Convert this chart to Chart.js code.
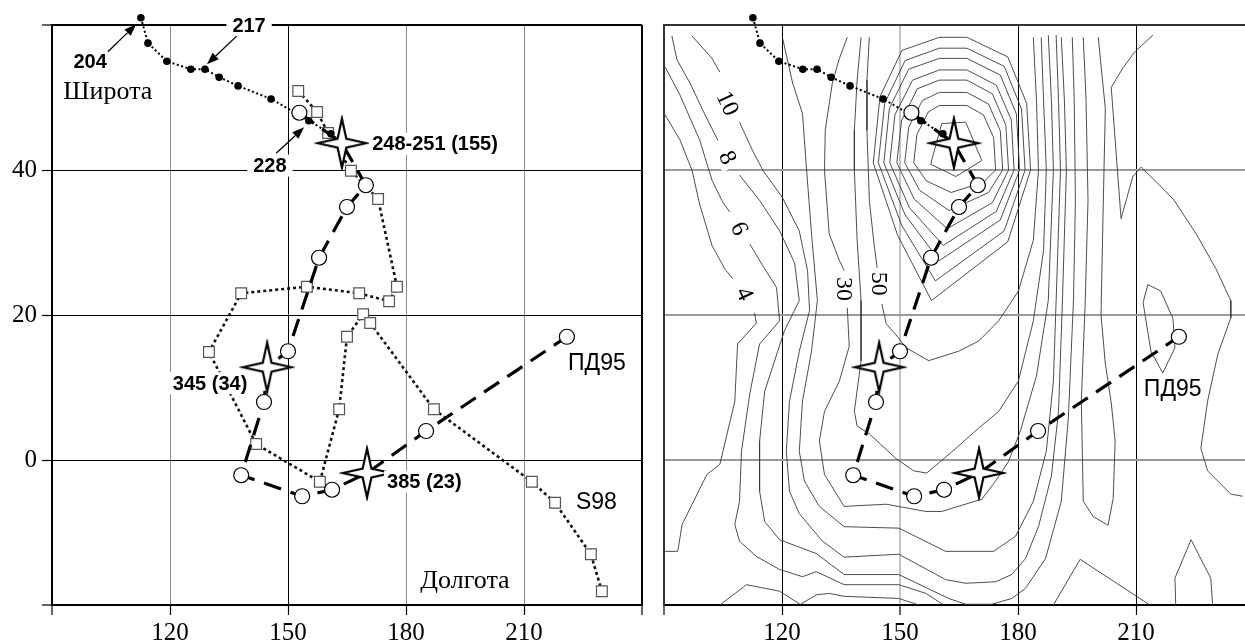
<!DOCTYPE html>
<html>
<head>
<meta charset="utf-8">
<script src="https://cdn.jsdelivr.net/npm/chart.js@4.4.1/dist/chart.umd.min.js"></script>
<style>
  html, body { margin: 0; padding: 0; background: #fff; width: 1245px; height: 641px; overflow: hidden; }
  #left { position: absolute; left: 0; top: 0; }
  #right { position: absolute; left: 612px; top: 0; }
</style>
</head>
<body>
<canvas id="left" width="660" height="641"></canvas>
<canvas id="right" width="660" height="641"></canvas>
<script>
// axes
const xRange = [90, 240];
const yRange = [-20, 60];
const xTickLabels = [120, 150, 180, 210];
const yTickLabels = [0, 20, 40];

// tracks (longitude, latitude)
const dotTrack = [[112.6,61.0],[114.4,57.5],[119.2,55.0],[125.3,53.9],[128.9,53.9],[132.5,52.8],[137.3,51.6],[145.7,49.8],[155.3,46.8],[160.9,45.0],[163.7,43.7]];
const pd95Track = [[152.9,47.9],[163.7,43.7],[169.8,37.9],[165.0,34.9],[157.9,27.9],[150.0,15.0],[144.7,12.8],[143.9,8.0],[138.1,-2.1],[153.6,-5.0],[161.2,-4.1],[170.1,-1.8],[185.1,4.0],[220.9,17.0]];
const s98Track = [[152.6,50.9],[157.4,48.0],[160.2,45.1],[166.0,39.9],[172.9,36.0],[177.7,23.9],[175.7,21.9],[168.1,23.0],[154.8,23.9],[138.1,23.0],[129.9,14.9],[141.9,2.2],[158.1,-3.0],[163.0,7.0],[165.0,17.0],[169.1,20.1],[170.9,18.9],[187.1,7.0],[212.0,-3.0],[217.9,-5.9],[227.0,-13.0],[229.8,-18.1]];
const starPoints = [[163.7,43.7],[144.7,12.8],[170.1,-1.8]];

// contour lines of the right map
const c4a = [[90.3,47.6],[94.1,44.1],[97.1,40.0],[99.1,35.2],[102.2,29.6],[105.4,26.4],[107.5,25.0]];
const c4b = [[113.0,20.3],[113.5,18.9],[108.7,16.0],[108.0,8.1],[104.2,-0.6],[100.9,-2.0],[94.6,-8.9],[93.5,-12.6],[90.3,-12.6]];
const c6a = [[90.3,54.2],[94.1,50.3],[99.1,44.1],[102.2,38.6],[104.7,35.8],[106.7,34.2]];
const c6b = [[111.8,29.8],[115.1,26.8],[118.6,23.8],[119.4,19.2],[114.3,16.0],[111.8,9.1],[109.7,1.2],[109.2,-5.7],[108.0,-8.9],[109.2,-11.2],[113.5,-13.3],[119.4,-15.1],[125.2,-16.1],[128.7,-15.4],[135.8,-17.2],[149.7,-17.2],[156.6,-18.4],[161.1,-20.0]];
const c8a = [[92.0,58.5],[93.3,55.2],[96.6,52.0],[99.9,48.2],[103.7,44.1]];
const c8b = [[109.2,39.3],[114.3,35.8],[119.4,31.6],[123.2,27.2],[124.4,22.0],[120.6,17.8],[115.6,9.5],[114.3,2.6],[114.3,-4.3],[115.6,-8.5],[119.4,-11.0],[128.7,-12.9],[135.8,-15.8],[149.7,-15.8],[162.4,-19.1],[166.7,-19.9],[173.3,-19.9],[178.4,-19.1],[181.9,-17.7],[187.0,-13.6],[191.0,-5.7],[192.8,5.8],[194.1,22.0],[194.6,35.8],[194.3,49.6],[193.8,58.3]];
const c10a = [[97.1,58.5],[102.2,55.4],[104.2,53.5]];
const c10b = [[109.2,46.6],[112.5,42.7],[115.1,40.0],[120.1,36.2],[124.4,31.6],[126.5,26.1],[127.0,20.6],[124.4,15.0],[121.9,8.1],[121.1,1.2],[121.9,-4.3],[124.4,-7.4],[130.3,-11.2],[135.8,-13.4],[149.7,-13.0],[161.6,-16.5],[166.7,-17.0],[174.3,-16.8],[178.4,-15.8],[181.9,-13.6],[185.2,-9.2],[188.5,-2.2],[190.3,6.7],[191.3,22.0],[192.3,40.0],[191.8,49.6],[191.0,58.3]];
const c20 = [[120.1,58.3],[122.7,52.0],[125.2,47.8],[126.2,40.4],[127.5,31.2],[129.0,22.0],[127.5,15.0],[125.2,8.1],[124.4,1.2],[125.7,-2.9],[129.5,-6.4],[135.8,-9.2],[149.7,-9.4],[161.6,-12.6],[173.8,-12.6],[179.4,-10.5],[183.9,-5.7],[187.2,1.2],[189.0,10.9],[189.7,22.0],[190.8,40.0],[190.3,49.6],[189.7,58.6]];
const c30a = [[136.6,58.3],[134.6,55.4],[132.8,52.0],[131.0,45.5],[130.8,40.0],[132.0,31.2],[134.6,27.5],[135.8,26.1]];
const c30b = [[136.6,21.0],[137.1,15.7],[134.6,10.9],[130.8,6.7],[129.5,2.6],[130.8,-2.0],[135.8,-6.4],[146.5,-6.1],[156.6,-7.1],[160.6,-7.1],[170.8,-5.4],[174.3,-2.9],[177.6,-0.2],[180.6,4.0],[184.7,11.6],[187.7,22.0],[189.0,40.0],[188.5,49.6],[187.7,58.6]];
const c40 = [[140.1,58.3],[139.1,52.4],[138.4,45.5],[138.4,40.0],[139.1,30.3],[140.1,22.0],[140.1,13.7],[138.4,6.7],[139.1,4.7],[142.2,3.6],[149.0,0.2],[153.5,-1.5],[156.8,-1.8],[164.2,1.6],[170.0,4.4],[175.1,6.7],[180.1,10.9],[183.9,19.2],[186.5,28.9],[187.2,40.0],[186.5,49.6],[185.9,58.3]];
const c50a = [[142.2,58.3],[141.6,52.4],[141.6,45.5],[142.2,35.8],[143.4,29.8],[144.2,26.5]];
const c50b = [[145.4,21.5],[146.5,18.8],[149.7,16.8],[151.5,15.5],[157.3,13.7],[164.9,15.0],[170.0,16.4],[175.1,19.2],[180.1,23.3],[183.9,30.3],[185.2,40.0],[184.7,49.6],[183.9,58.3]];
const ring1 = [[157.8,40.8],[160.6,46.4],[166.7,46.6],[170.8,41.3],[164.2,39.1],[157.8,40.8]];
const ring2 = [[153.5,41],[154.3,44.9],[157.2,48.0],[160,48.9],[167,48.9],[171.2,47.6],[173.8,44.5],[174.3,40],[171.2,38.3],[163,36.9],[156.7,38.5],[153.5,41]];
const ring3 = [[151.2,41],[152.2,45.9],[155.7,49.6],[160,50.7],[167,50.7],[172.5,49.1],[175.5,45.4],[176.1,40],[172.5,36.9],[162.5,34.4],[155.0,37.2],[151.2,41]];
const ring4 = [[149.2,41],[150.4,46.8],[154.4,51.2],[160,52.4],[167,52.4],[173.5,50.5],[176.9,46.2],[177.6,40],[173.5,35.5],[162,31.9],[153.6,36.0],[149.2,41]];
const ring5 = [[147.4,41],[148.7,47.6],[153.2,52.4],[160,53.8],[167,53.8],[174.5,51.7],[178.3,46.9],[179.0,40],[174.5,34.3],[161,29.6],[152.4,34.8],[147.4,41]];
const ring6 = [[145.9,41],[147.3,48.5],[152.2,53.9],[160,55.4],[167,55.4],[175.5,53.1],[179.6,47.7],[180.4,40],[175.5,33.1],[160,27.5],[151.3,33.8],[145.9,41]];
const ring7 = [[144.5,41],[146.1,49.2],[151.3,55.1],[160,56.8],[167,56.8],[176.5,54.3],[180.9,48.4],[181.8,40],[176.5,31.6],[159,24.7],[150.4,32.4],[144.5,41]];
const ring8 = [[143.2,41],[144.9,50.1],[150.5,56.5],[160,58.3],[167,58.3],[177.4,55.6],[182.2,49.2],[183.2,40],[177.4,30.1],[158,22.0],[149.4,31.0],[143.2,41]];
const tongue = [[196.6,58.3],[197.3,49.6],[197.8,35.8],[197.1,22.0],[196.1,8.1],[196.6,-5.7],[199.1,-7.8],[202.9,-9.0],[204.2,-5.3],[204.7,2.6],[203.7,7.9],[202.2,13.3],[201.1,20.0],[201.6,33.3],[202.2,48.5],[200.4,58.3]];
const hook = [[214.3,58.6],[209.7,56.3],[206.7,54.1],[203.7,51.4],[204.9,42.7],[206.2,33.3],[209.2,39.1],[211.3,40.4],[215.8,38.0],[219.6,35.9],[225.4,31.1],[230.3,26.4],[234.1,22.0],[234.1,19.6],[230.8,14.6],[228.2,8.1],[226.5,1.6],[228.2,-1.5],[234.1,-4.7],[237.1,-5.0]];
const loopEast = [[213.0,24.2],[211.8,21.7],[213.8,15.0],[216.8,12.0],[219.9,15.5],[219.4,19.5],[216.3,23.3],[213.0,24.2]];
const loopSouth = [[220.1,-20.0],[219.9,-16.3],[224.0,-11.0],[229.0,-16.3],[229.5,-20.0]];
const edgeA = [[104.2,-20.0],[111.0,-17.2],[119.4,-18.1],[124.9,-20.0]];
const edgeB = [[124.4,-20.0],[128.7,-18.6],[132.0,-18.4],[135.8,-18.8],[149.7,-19.1],[154.8,-20.0]];
const edgeC = [[189.0,-20.0],[195.8,-13.7],[213.5,-20.0]];

const contourLines = [c4a, c4b, c6a, c6b, c8a, c8b, c10a, c10b, c20, c30a, c30b, c40, c50a, c50b,
  ring1, ring2, ring3, ring4, ring5, ring6, ring7, ring8, tongue, hook, loopEast, loopSouth, edgeA, edgeB, edgeC];

const BOLD = 'bold 20px "Liberation Sans", Arial, sans-serif';
const SANS = '23px "Liberation Sans", Arial, sans-serif';
const SERIF = '26px "Liberation Serif", "Times New Roman", serif';
const ISO = '24px "Liberation Serif", "Times New Roman", serif';

const leftNotes = [
  { t: '204', x: 99.7, y: 54.9, font: BOLD },
  { t: '217', x: 140.1, y: 60.0, font: BOLD, bg: 6 },
  { t: 'Широта', x: 104.2, y: 50.9, font: SERIF },
  { t: '228', x: 145.4, y: 40.6, font: BOLD, bg: 6 },
  { t: '248-251 (155)', x: 171.4, y: 43.6, font: BOLD, bg: 3, align: 'left' },
  { t: '345 (34)', x: 130.2, y: 10.6, font: BOLD, bg: 3 },
  { t: '385 (23)', x: 175.2, y: -3.0, font: BOLD, bg: 3, align: 'left' },
  { t: 'ПД95', x: 221.2, y: 13.4, font: SANS, align: 'left' },
  { t: 'S98', x: 223.2, y: -5.8, font: SANS, align: 'left' },
  { t: 'Долгота', x: 195.0, y: -16.6, font: SERIF }
];
const leftArrows = [
  [[104.2, 56.3], [111.4, 60.1]],
  [[137.0, 58.5], [129.4, 54.6]],
  [[147.0, 42.3], [154.1, 45.9]]
];
const rightNotes = [
  { t: '10', x: 106.2, y: 49.2, font: ISO, rot: 65, bg: 4 },
  { t: '8', x: 106.2, y: 41.7, font: ISO, rot: 65, bg: 5 },
  { t: '6', x: 109.2, y: 31.9, font: ISO, rot: 65, bg: 5 },
  { t: '4', x: 110.5, y: 22.9, font: ISO, rot: 65, bg: 5 },
  { t: '30', x: 135.8, y: 23.6, font: ISO, rot: 90, bg: 3 },
  { t: '50', x: 144.7, y: 24.3, font: ISO, rot: 90, bg: 3 },
  { t: 'ПД95', x: 212.0, y: 9.8, font: SANS, align: 'left' }
];

const P = arr => arr.map(([x, y]) => ({ x, y }));
const isStar = p => starPoints.some(s => s[0] === p.x && s[1] === p.y);

// 4-point star marker
function makeStar() {
  const c = document.createElement('canvas');
  c.width = 56; c.height = 56;
  const g = c.getContext('2d');
  g.beginPath();
  for (let i = 0; i < 8; i++) {
    const a = -Math.PI / 2 + i * Math.PI / 4;
    const r = i % 2 === 0 ? 24.5 : 6.2;
    g.lineTo(28 + r * Math.cos(a), 28 + r * Math.sin(a));
  }
  g.closePath();
  g.fillStyle = '#fff';
  g.fill();
  g.lineWidth = 2.2;
  g.lineJoin = 'miter';
  g.strokeStyle = '#000';
  g.stroke();
  return c;
}
const starImg = makeStar();

function drawArrow(ctx, x1, y1, x2, y2) {
  const a = Math.atan2(y2 - y1, x2 - x1);
  const L = 12, W = 4.5;
  const bx = x2 - L * Math.cos(a), by = y2 - L * Math.sin(a);
  ctx.strokeStyle = '#000';
  ctx.lineWidth = 1.3;
  ctx.beginPath(); ctx.moveTo(x1, y1); ctx.lineTo(bx, by); ctx.stroke();
  ctx.fillStyle = '#000';
  ctx.beginPath();
  ctx.moveTo(x2, y2);
  ctx.lineTo(bx + W * Math.sin(a), by - W * Math.cos(a));
  ctx.lineTo(bx - W * Math.sin(a), by + W * Math.cos(a));
  ctx.closePath(); ctx.fill();
}

// text labels and arrows placed in data coordinates
const notesPlugin = {
  id: 'notes',
  afterDatasetsDraw(chart, args, opts) {
    const { ctx } = chart;
    const xs = chart.scales.x, ys = chart.scales.y;
    ctx.save();
    (opts.arrows || []).forEach(([a, b]) => {
      drawArrow(ctx, xs.getPixelForValue(a[0]), ys.getPixelForValue(a[1]),
        xs.getPixelForValue(b[0]), ys.getPixelForValue(b[1]));
    });
    (opts.notes || []).forEach(n => {
      ctx.save();
      ctx.font = n.font;
      const w = ctx.measureText(n.t).width;
      ctx.translate(xs.getPixelForValue(n.x), ys.getPixelForValue(n.y));
      if (n.rot) ctx.rotate(n.rot * Math.PI / 180);
      const left = n.align === 'left' ? 0 : -w / 2;
      if (n.bg) {
        ctx.fillStyle = '#fff';
        ctx.fillRect(left - n.bg, -11, w + 2 * n.bg, 22);
      }
      ctx.fillStyle = '#000';
      ctx.textAlign = 'left';
      ctx.textBaseline = 'middle';
      ctx.fillText(n.t, left, 1);
      ctx.restore();
    });
    ctx.restore();
  }
};

// let marker just above the frame be drawn
const roomPlugin = {
  id: 'room',
  beforeDatasetsDraw(chart) { chart.chartArea.top -= 20; },
  afterDatasetsDraw(chart) { chart.chartArea.top += 20; }
};

function makeOptions(isLeft, notes, arrows) {
  return {
    responsive: false,
    animation: false,
    devicePixelRatio: 1,
    layout: { padding: { left: 0, right: 18, top: 25, bottom: 0 } },
    plugins: {
      legend: { display: false },
      tooltip: { enabled: false },
      notes: { notes, arrows }
    },
    scales: {
      x: {
        type: 'linear',
        min: xRange[0], max: xRange[1],
        afterFit: s => { s.height = 36; },
        ticks: {
          stepSize: 30, autoSkip: false, maxRotation: 0, padding: 3, color: '#000',
          font: { family: '"Liberation Serif", "Times New Roman", serif', size: 25 },
          callback: v => xTickLabels.includes(v) ? String(v) : ''
        },
        grid: {
          tickLength: 10, tickColor: '#000', tickWidth: 1.2,
          color: ctx => {
            const v = ctx.tick ? ctx.tick.value : 0;
            if (isLeft) return (v === 120 || v === 180 || v === 210) ? '#8a8a8a' : '#000';
            if (v === 150) return '#c4c4c4';
            if (v === 90) return '#333';
            return '#000';
          },
          lineWidth: ctx => {
            const v = ctx.tick ? ctx.tick.value : 0;
            if (v === 90 || v === 240) return 2;
            if (!isLeft && v === 150) return 2;
            return 1;
          }
        },
        border: { color: '#000', width: 2 }
      },
      y: {
        type: 'linear',
        min: yRange[0], max: yRange[1],
        afterFit: s => { s.width = 52; },
        ticks: {
          stepSize: 20, padding: 5, color: '#000', display: isLeft,
          font: { family: '"Liberation Serif", "Times New Roman", serif', size: 25 },
          callback: v => yTickLabels.includes(v) ? String(v) : ''
        },
        grid: {
          drawTicks: isLeft,
          tickLength: 10, tickColor: '#000', tickWidth: 1.2,
          color: ctx => {
            const v = ctx.tick ? ctx.tick.value : 0;
            if (isLeft) return '#000';
            if (v === 60) return '#333';
            if (v === -20) return '#000';
            return '#9a9a9a';
          },
          lineWidth: ctx => {
            const v = ctx.tick ? ctx.tick.value : 0;
            if (v === 60 || v === -20) return 2;
            return isLeft ? 1 : 2;
          }
        },
        border: { color: isLeft ? '#000' : '#333', width: 2 }
      }
    }
  };
}

function dotsDataset() {
  return {
    data: P(dotTrack), showLine: true, clip: false, order: 4,
    borderColor: '#000', borderWidth: 2, borderDash: [2, 2.5],
    pointRadius: ctx => (ctx.raw && isStar(ctx.raw)) ? 0 : 3.8,
    pointBackgroundColor: '#000', pointBorderColor: '#000', pointBorderWidth: 0
  };
}
function pd95Dataset() {
  return {
    data: P(pd95Track), showLine: true, clip: false, order: 3,
    borderColor: '#000', borderWidth: 3.2, borderDash: [18, 10], borderCapStyle: 'butt',
    pointRadius: ctx => (ctx.raw && isStar(ctx.raw)) ? 0 : 7.5,
    pointBackgroundColor: '#fff', pointBorderColor: '#000', pointBorderWidth: 1.2
  };
}
function starDataset(order) {
  return {
    data: P(starPoints), showLine: false, clip: false, order,
    pointStyle: starImg, pointRadius: 12
  };
}

new Chart(document.getElementById('left'), {
  type: 'scatter',
  data: {
    datasets: [
      {
        data: P(s98Track), showLine: true, clip: false, order: 5,
        borderColor: '#111', borderWidth: 2.6, borderDash: [3, 3], borderCapStyle: 'butt',
        pointStyle: 'rect', pointRadius: 7.6,
        pointBackgroundColor: '#fff', pointBorderColor: '#555', pointBorderWidth: 1.2
      },
      dotsDataset(),
      pd95Dataset(),
      starDataset(1)
    ]
  },
  options: makeOptions(true, leftNotes, leftArrows),
  plugins: [roomPlugin, notesPlugin]
});

new Chart(document.getElementById('right'), {
  type: 'scatter',
  data: {
    datasets: contourLines.map(line => ({
      data: P(line), showLine: true, order: 10,
      borderColor: '#3a3a3a', borderWidth: 0.9, pointRadius: 0
    })).concat([dotsDataset(), pd95Dataset(), starDataset(2)])
  },
  options: makeOptions(false, rightNotes, []),
  plugins: [roomPlugin, notesPlugin]
});
</script>
</body>
</html>
